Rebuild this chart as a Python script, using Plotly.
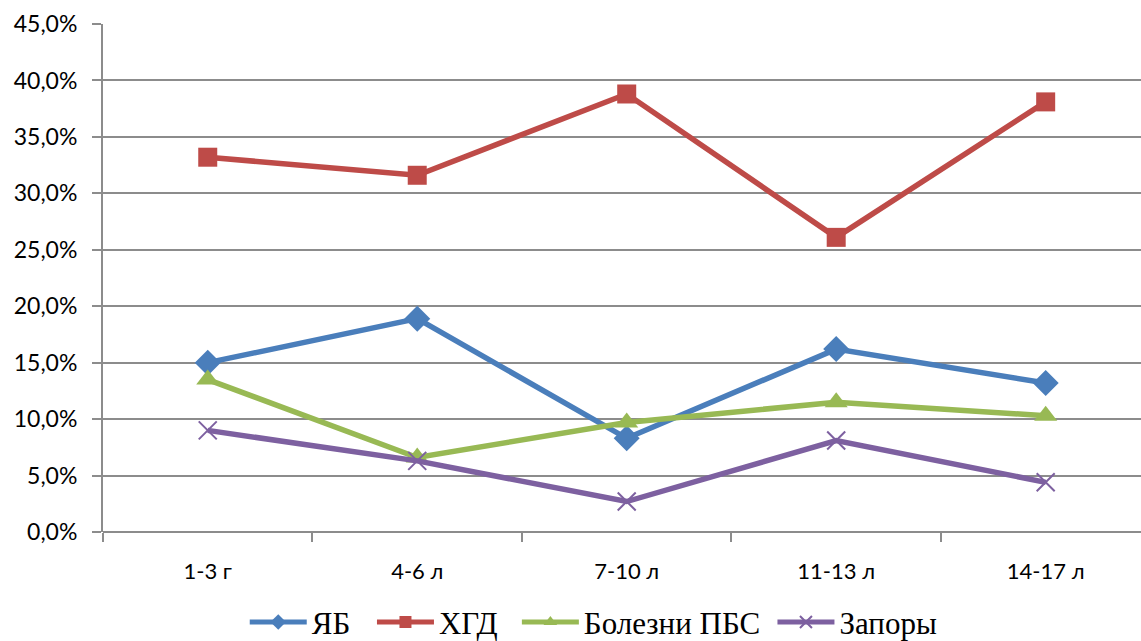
import plotly.graph_objects as go

# Age groups and share of each diagnosis, %
age_groups = ["1-3 г", "4-6 л", "7-10 л", "11-13 л", "14-17 л"]
yab = [15.0, 18.9, 8.3, 16.2, 13.2]
hgd = [33.2, 31.6, 38.8, 26.1, 38.1]
pbs = [13.5, 6.6, 9.7, 11.5, 10.3]
zapory = [9.0, 6.3, 2.7, 8.1, 4.4]

series = [
    ("ЯБ", yab, "#4A7EBB", "diamond", 20, {}),
    ("ХГД", hgd, "#BE4B48", "square", 19, {}),
    ("Болезни ПБС", pbs, "#98B954", "triangle-up", 20, {}),
    ("Запоры", zapory, "#7D60A0", "x-thin", 18, {"line": {"width": 2, "color": "#7D60A0"}}),
]
# left edge of each legend entry, as a fraction of the figure width
legend_left = [0.2145, 0.326, 0.453, 0.677]

grid_color = "#8C8C8C"
label_font = dict(family="Lato, Carlito, Calibri, sans-serif", size=23, color="#000000")
legend_font = dict(family="Liberation Serif, Times New Roman, serif", size=31, color="#000000")

fig = go.Figure()
legends = {}
for i, (name, vals, color, symbol, size, extra) in enumerate(series):
    marker = dict(symbol=symbol, size=size, color=color)
    marker.update(extra)
    key = "legend" if i == 0 else f"legend{i + 1}"
    fig.add_trace(go.Scatter(
        x=list(range(len(age_groups))), y=vals, name=name, mode="lines+markers",
        line=dict(color=color, width=5.5), marker=marker, legend=key,
    ))
    legends[key] = dict(
        orientation="h", x=legend_left[i], xanchor="left", xref="container",
        y=0.029, yanchor="middle", yref="container",
        font=legend_font, itemwidth=57, bgcolor="rgba(0,0,0,0)",
        itemsizing="constant",
    )

fig.update_layout(
    width=1141, height=641,
    margin=dict(l=103, r=0, t=24, b=109),
    paper_bgcolor="white", plot_bgcolor="white",
    separators=",.",
    showlegend=True,
    **legends,
)

fig.update_xaxes(
    tickmode="array", tickvals=[i + 0.5 for i in range(len(age_groups) - 1)] + [-0.5],
    ticktext=[""] * len(age_groups),
    range=[-0.5, 4.455], showgrid=False, zeroline=False,
    ticks="outside", ticklen=9, tickwidth=2, tickcolor=grid_color,
    showline=False,
)
# category labels on an overlaid axis so ticks sit on the boundaries
fig.update_layout(xaxis2=dict(
    overlaying="x", side="bottom", range=[-0.5, 4.455],
    tickmode="array", tickvals=list(range(len(age_groups))), ticktext=age_groups,
    showgrid=False, zeroline=False, ticks="", showline=False,
    tickfont=dict(label_font, size=22), ticklabelstandoff=24,
))
fig.add_trace(go.Scatter(x=[0], y=[None], xaxis="x2", showlegend=False, hoverinfo="skip"))

fig.update_yaxes(
    range=[0, 45], dtick=5, tickformat=".1f", ticksuffix="%",
    showgrid=True, gridcolor=grid_color, gridwidth=2,
    zeroline=True, zerolinecolor=grid_color, zerolinewidth=2,
    showline=True, linecolor=grid_color, linewidth=2,
    ticks="outside", ticklen=9, tickwidth=2, tickcolor=grid_color,
    tickfont=label_font, ticklabelstandoff=10,
)

fig.write_html("out.html")
